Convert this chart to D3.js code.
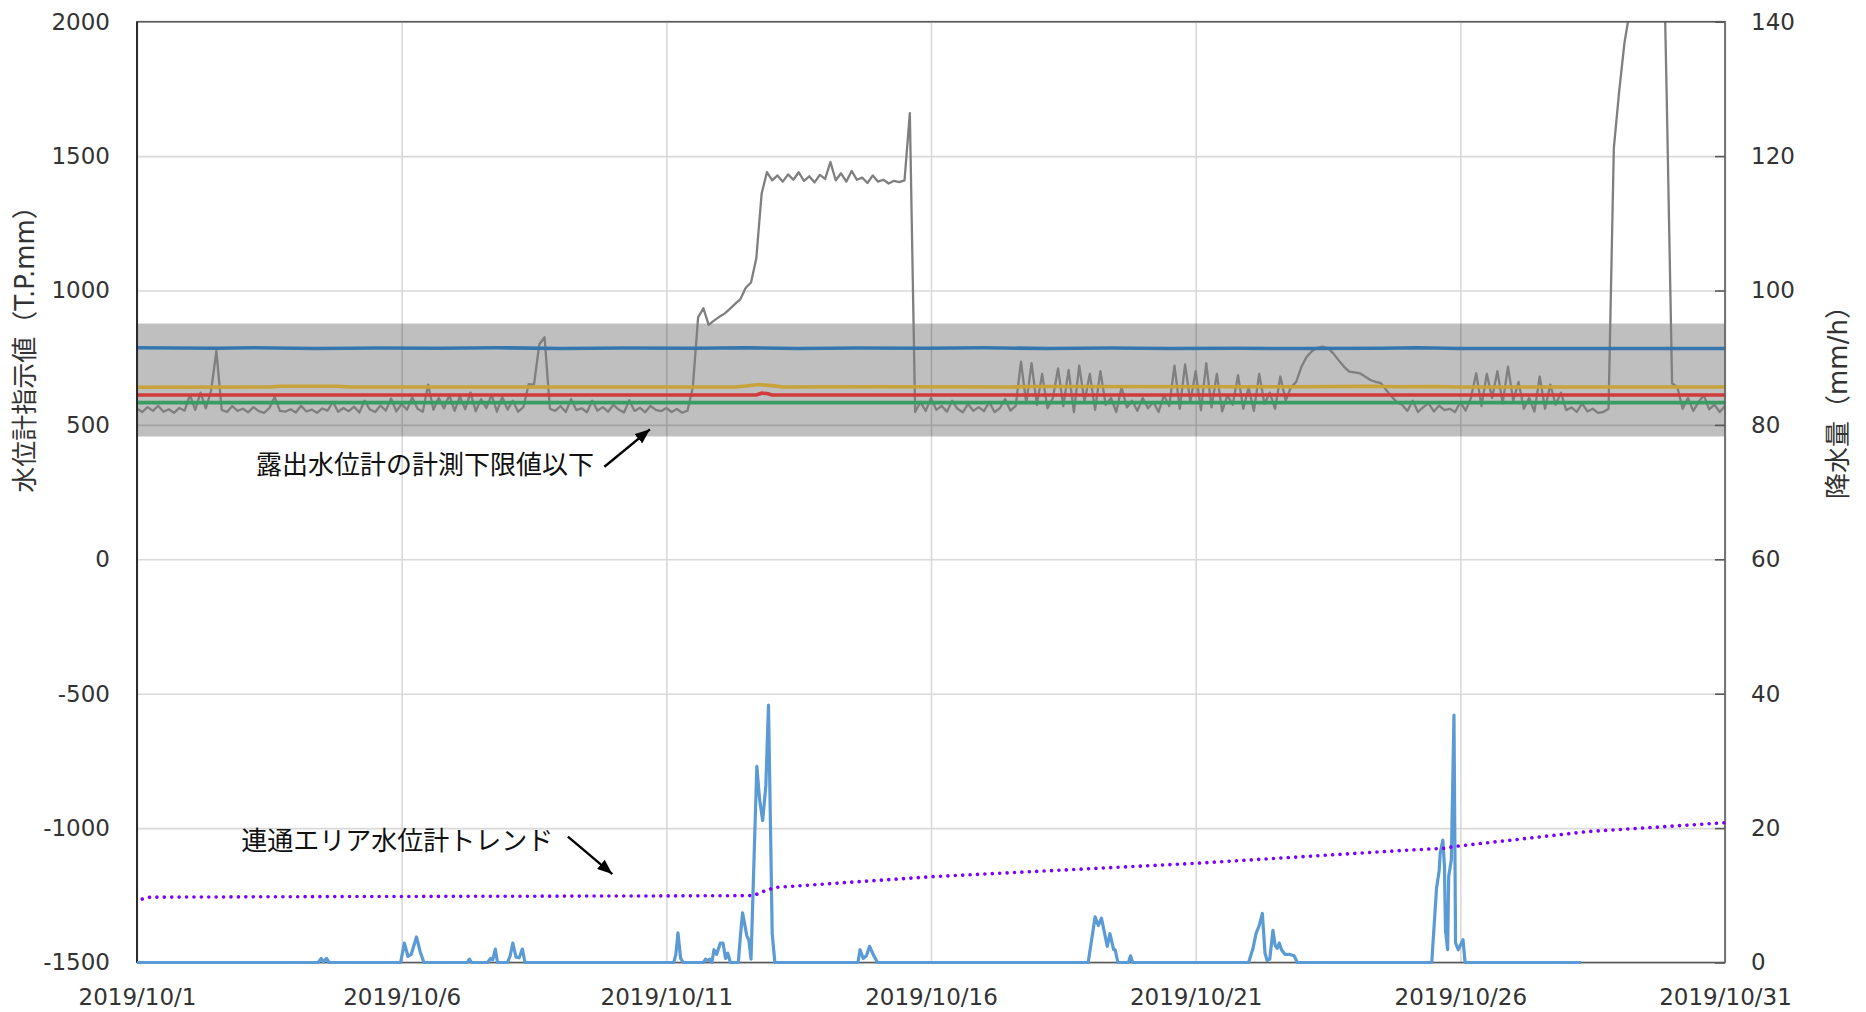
<!DOCTYPE html>
<html><head><meta charset="utf-8">
<script src="https://cdn.jsdelivr.net/npm/d3@7/dist/d3.min.js"></script>
<style>
body{margin:0;background:#fff}
svg{display:block}
text{font-family:"DejaVu Sans","Noto Sans CJK JP",sans-serif}
</style>
</head><body>
<svg id="chart" width="1866" height="1012"></svg>
<script>
// ---------------- data ----------------
const xTickDays   = [0, 5, 10, 15, 20, 25, 30];
const xTickLabels = ["2019/10/1","2019/10/6","2019/10/11","2019/10/16","2019/10/21","2019/10/26","2019/10/31"];
const leftTicks   = [-1500, -1000, -500, 0, 500, 1000, 1500, 2000];
const rightTicks  = [0, 20, 40, 60, 80, 100, 120, 140];

const leftTitle  = "水位計指示値（T.P.mm）";
const rightTitle = "降水量（mm/h）";

// grey gauge reading, one value every 0.1 day from 10/1 00:00
const grayStep = 0.1;
const grayValues = [
  560, 548, 566, 552, 571, 549, 558, 545, 563, 553,
  612, 556, 620, 561, 628, 775, 556, 548, 570, 552,
  560, 547, 566, 551, 545, 562, 604, 552, 549, 558,
  546, 571, 550, 557, 545, 561, 553, 586, 549, 563,
  551, 568, 546, 590, 557, 548, 572, 553, 598, 550,
  578, 556, 603, 560, 549, 650, 556, 600, 561, 612,
  552, 606, 558, 620, 551, 596, 563, 612, 549, 604,
  557, 590, 549, 566, 652, 650, 800, 826, 560, 552,
  570, 548, 596, 555, 562, 547, 590, 553, 566, 549,
  575, 557, 546, 592, 552, 564, 547, 571, 556, 551,
  563, 548, 559, 545, 553, 640, 900, 934, 872, 888,
  902, 914, 932, 950, 968, 1010, 1030, 1120, 1360, 1440,
  1410, 1428, 1405, 1432, 1412, 1440, 1408, 1425, 1402, 1430,
  1415, 1478, 1410, 1436, 1405, 1445, 1412, 1420, 1400, 1428,
  1405, 1412, 1398, 1408, 1403, 1410, 1660, 548, 585, 552,
  600, 556, 571, 549, 590, 560, 547, 578, 552, 566,
  551, 585, 548, 562, 596, 553, 571, 735, 580, 730,
  575, 690, 562, 598, 710, 570, 705, 548, 720, 586,
  690, 556, 700, 575, 600, 548, 640, 565, 590, 552,
  600, 562, 585, 548, 610, 570, 720, 560, 725, 585,
  700, 555, 730, 565, 690, 550, 610, 575, 685, 560,
  640, 552, 690, 578, 620, 560, 680, 590, 640, 660,
  717, 754, 775, 787, 791, 785, 766, 741, 717, 698,
  695, 692, 680, 667, 660, 655, 630, 606, 585, 575,
  552, 590, 548, 566, 580, 550, 572, 555, 560, 548,
  585, 553, 600, 692, 570, 690, 600, 700, 580, 717,
  590, 660, 560, 600, 550, 680, 560, 650, 575, 620,
  555, 565, 548, 580, 550, 560, 545, 548, 560, 1530,
  1740, 1920, 2040, 2150, 2250, 2350, 2450, 2550, 2680, 1710,
  655, 640, 560, 600, 552, 585, 610, 558, 575, 548,
  570
];

// other gauges: [day, value]
const blueSeries = [[0,787],[1.5,785],[2.2,787],[3.4,784],[4.6,786],[5.7,785],[6.8,787],[8.0,784],[9.2,786],[10.5,785],[11.5,787],[12.5,784],[13.6,786],[14.9,785],[16.0,787],[17.2,784],[18.4,786],[19.5,784],[20.8,785],[22.0,784],[23.5,785],[24.2,787],[25.0,784],[26.0,784],[30,784]];
const yellowSeries = [[0,640],[2.5,641],[2.7,644],[3.8,644],[4.0,641],[11.3,641],[11.5,645],[11.75,650],[12.0,646],[12.2,641],[14,642],[16.5,641],[17,643],[21,642],[22,642],[23.3,644],[23.8,642],[24.5,643],[25,641],[30,641]];
const redSeries = [[0,611],[11.7,611],[11.8,618],[11.9,617],[12.0,611],[30,611]];
const greenSeries = [[0,583],[30,583]];

// rainfall (right axis): [day, mm/h]
const rainSeries = [[0,0],[3.42,0],[3.48,0.6],[3.52,0.1],[3.58,0.6],[3.63,0],
  [4.98,0],[5.05,2.9],[5.12,0.9],[5.18,1.2],[5.28,3.8],[5.35,1.6],[5.42,0],
  [6.24,0],[6.28,0.5],[6.32,0],[6.62,0],[6.68,0.6],[6.72,0.4],[6.77,2.0],[6.81,0],
  [7.0,0],[7.05,1.0],[7.1,2.9],[7.16,0.8],[7.22,0.7],[7.28,2.0],[7.33,0],
  [10.14,0],[10.18,1.2],[10.22,4.4],[10.27,0.6],[10.32,0],
  [10.7,0],[10.74,0.5],[10.78,0.3],[10.82,0.5],[10.86,0],[10.9,1.9],[10.95,1.2],[11.02,2.9],[11.07,2.9],[11.12,0.6],[11.16,1.4],[11.21,0],
  [11.36,0],[11.4,4.0],[11.44,7.4],[11.52,4.0],[11.56,3.3],[11.6,0.5],[11.67,18.9],[11.71,29.2],[11.76,24.4],[11.82,21.1],[11.88,26.3],[11.93,38.3],[11.97,19.0],[12.0,4.3],[12.05,0],
  [13.62,0],[13.66,1.9],[13.72,0.6],[13.78,1.0],[13.84,2.4],[13.92,1.0],[13.99,0],
  [17.97,0],[18.1,6.8],[18.16,5.5],[18.22,6.6],[18.33,2.4],[18.38,4.3],[18.45,1.9],[18.48,1.9],[18.53,0],
  [18.73,0],[18.77,1.0],[18.81,0],
  [21.0,0],[21.08,2.0],[21.14,4.3],[21.2,5.5],[21.26,7.3],[21.31,1.4],[21.35,0.3],[21.4,0.5],[21.46,4.8],[21.5,2.6],[21.54,2.1],[21.58,2.9],[21.62,1.9],[21.69,1.2],[21.78,1.2],[21.86,1.0],[21.92,0],
  [24.46,0],[24.55,11.0],[24.6,13.7],[24.62,16.3],[24.67,18.2],[24.7,14.3],[24.72,4.8],[24.76,1.9],[24.78,12.8],[24.83,15.3],[24.88,36.8],[24.91,2.9],[24.96,1.9],[24.99,2.4],[25.05,3.4],[25.09,0],
  [27.28,0]];

// trend of the connected-area gauge (left axis): [day, value]
const trendSeries = [[0.1,-1264],[0.25,-1257],[3.3,-1255],[10.64,-1252],[11.65,-1251],[11.9,-1230],[12.1,-1220],[15,-1181],[20,-1131],[24,-1082],[24.7,-1075],[24.9,-1068],[27.4,-1013],[30,-980]];

// band: below lower measuring limit of exposed gauge
const bandLow = 457, bandHigh = 877;

const notes = [
  {text:"露出水位計の計測下限値以下", day:2.25, value:351, from:[8.83,344.5], to:[9.69,483.6]},
  {text:"連通エリア水位計トレンド", day:1.97, value:-1048, from:[8.14,-1032], to:[8.98,-1171]}
];

// ---------------- layout ----------------
const L = 137, R = 1725, T = 21.7, B = 962.5;
const svg = d3.select("#chart");
const x  = d3.scaleLinear().domain([0, 30]).range([L, R]);
const yL = d3.scaleLinear().domain([-1500, 2000]).range([B, T]);
const yR = d3.scaleLinear().domain([0, 140]).range([B, T]);

svg.append("defs").append("clipPath").attr("id","plotclip")
  .append("rect").attr("x",L).attr("y",T).attr("width",R-L).attr("height",B-T+3);

// grid
const grid = svg.append("g");
grid.append("g").attr("transform",`translate(${L},0)`)
  .call(d3.axisLeft(yL).tickValues(leftTicks).tickSize(-(R-L)).tickFormat(""))
  .call(g=>g.select(".domain").remove())
  .call(g=>g.selectAll("line").attr("stroke","#d9d9d9").attr("stroke-width",1.6));
grid.append("g").attr("transform",`translate(0,${B})`)
  .call(d3.axisBottom(x).tickValues(xTickDays).tickSize(-(B-T)).tickFormat(""))
  .call(g=>g.select(".domain").remove())
  .call(g=>g.selectAll("line").attr("stroke","#d9d9d9").attr("stroke-width",1.6));

// band
svg.append("rect").attr("x",L).attr("width",R-L)
  .attr("y",yL(bandHigh)).attr("height",yL(bandLow)-yL(bandHigh))
  .attr("fill","#000").attr("fill-opacity",0.25);

const lineXY = d3.line().x(d=>x(d[0])).y(d=>yL(d[1]));
const plot = svg.append("g").attr("clip-path","url(#plotclip)");

// grey series
plot.append("path")
  .datum(grayValues.map((v,i)=>[i*grayStep, v]))
  .attr("d", lineXY).attr("fill","none").attr("stroke","#7f7f7f")
  .attr("stroke-width",2.3).attr("stroke-linejoin","round");

[[blueSeries,"#3476ad"],[yellowSeries,"#c9a33a"],[redSeries,"#d13b3b"],[greenSeries,"#3b9c62"]]
  .forEach(([s,c])=>{
    svg.append("path").datum(s).attr("d",lineXY).attr("fill","none")
      .attr("stroke",c).attr("stroke-width",3.6);
  });

// frame
svg.append("rect").attr("x",L).attr("y",T).attr("width",R-L).attr("height",B-T)
  .attr("fill","none").attr("stroke","#595959").attr("stroke-width",1.6);
svg.append("line").attr("x1",L).attr("x2",L).attr("y1",T).attr("y2",B)
  .attr("stroke","#1a1a1a").attr("stroke-width",1.6);

// rain
svg.append("path").datum(rainSeries)
  .attr("d", d3.line().x(d=>x(d[0])).y(d=>yR(d[1])))
  .attr("fill","none").attr("stroke","#5b9bd5").attr("stroke-width",3.2)
  .attr("stroke-linejoin","round");

// trend (dotted)
svg.append("path").datum(trendSeries).attr("d",lineXY).attr("fill","none")
  .attr("stroke","#7a00ff").attr("stroke-width",3.6)
  .attr("stroke-linecap","round").attr("stroke-dasharray","0.01 7.4");

// axes
const tickFont = 23;
const axL = svg.append("g").attr("transform",`translate(${L},0)`)
  .call(d3.axisLeft(yL).tickValues(leftTicks).tickSize(0).tickPadding(27)
        .tickFormat(d=>String(d)));
axL.select(".domain").remove();
axL.selectAll("text").attr("font-size",tickFont).attr("fill","#333");

const axR = svg.append("g").attr("transform",`translate(${R},0)`)
  .call(d3.axisRight(yR).tickValues(rightTicks).tickSize(-10).tickPadding(26)
        .tickFormat(d=>String(d)));
axR.select(".domain").remove();
axR.selectAll("line").attr("stroke","#595959").attr("stroke-width",1.6);
axR.selectAll("text").attr("font-size",tickFont).attr("fill","#333");

const axB = svg.append("g").attr("transform",`translate(0,${B})`)
  .call(d3.axisBottom(x).tickValues(xTickDays).tickSize(0).tickPadding(26)
        .tickFormat((d,i)=>xTickLabels[i]));
axB.select(".domain").remove();
axB.selectAll("text").attr("font-size",tickFont).attr("fill","#333");

// axis titles
svg.append("text").text(leftTitle)
  .attr("transform","translate(25,343) rotate(-90)")
  .attr("text-anchor","middle").attr("dominant-baseline","central")
  .attr("font-size",26).attr("fill","#333");
svg.append("text").text(rightTitle)
  .attr("transform","translate(1838,396) rotate(-90)")
  .attr("text-anchor","middle").attr("dominant-baseline","central")
  .attr("font-size",26).attr("fill","#333");

// annotations
svg.select("defs").append("marker").attr("id","ah")
  .attr("markerUnits","userSpaceOnUse").attr("markerWidth",16).attr("markerHeight",12)
  .attr("refX",15).attr("refY",6).attr("orient","auto")
  .append("path").attr("d","M0,0 L15,6 L0,12 Z").attr("fill","#000");
notes.forEach(n=>{
  svg.append("text").text(n.text).attr("x",x(n.day)).attr("y",yL(n.value))
    .attr("dominant-baseline","central").attr("font-size",26).attr("fill","#111");
  svg.append("line").attr("x1",x(n.from[0])).attr("y1",yL(n.from[1]))
    .attr("x2",x(n.to[0])).attr("y2",yL(n.to[1]))
    .attr("stroke","#000").attr("stroke-width",2.4).attr("marker-end","url(#ah)");
});
</script>
</body></html>
